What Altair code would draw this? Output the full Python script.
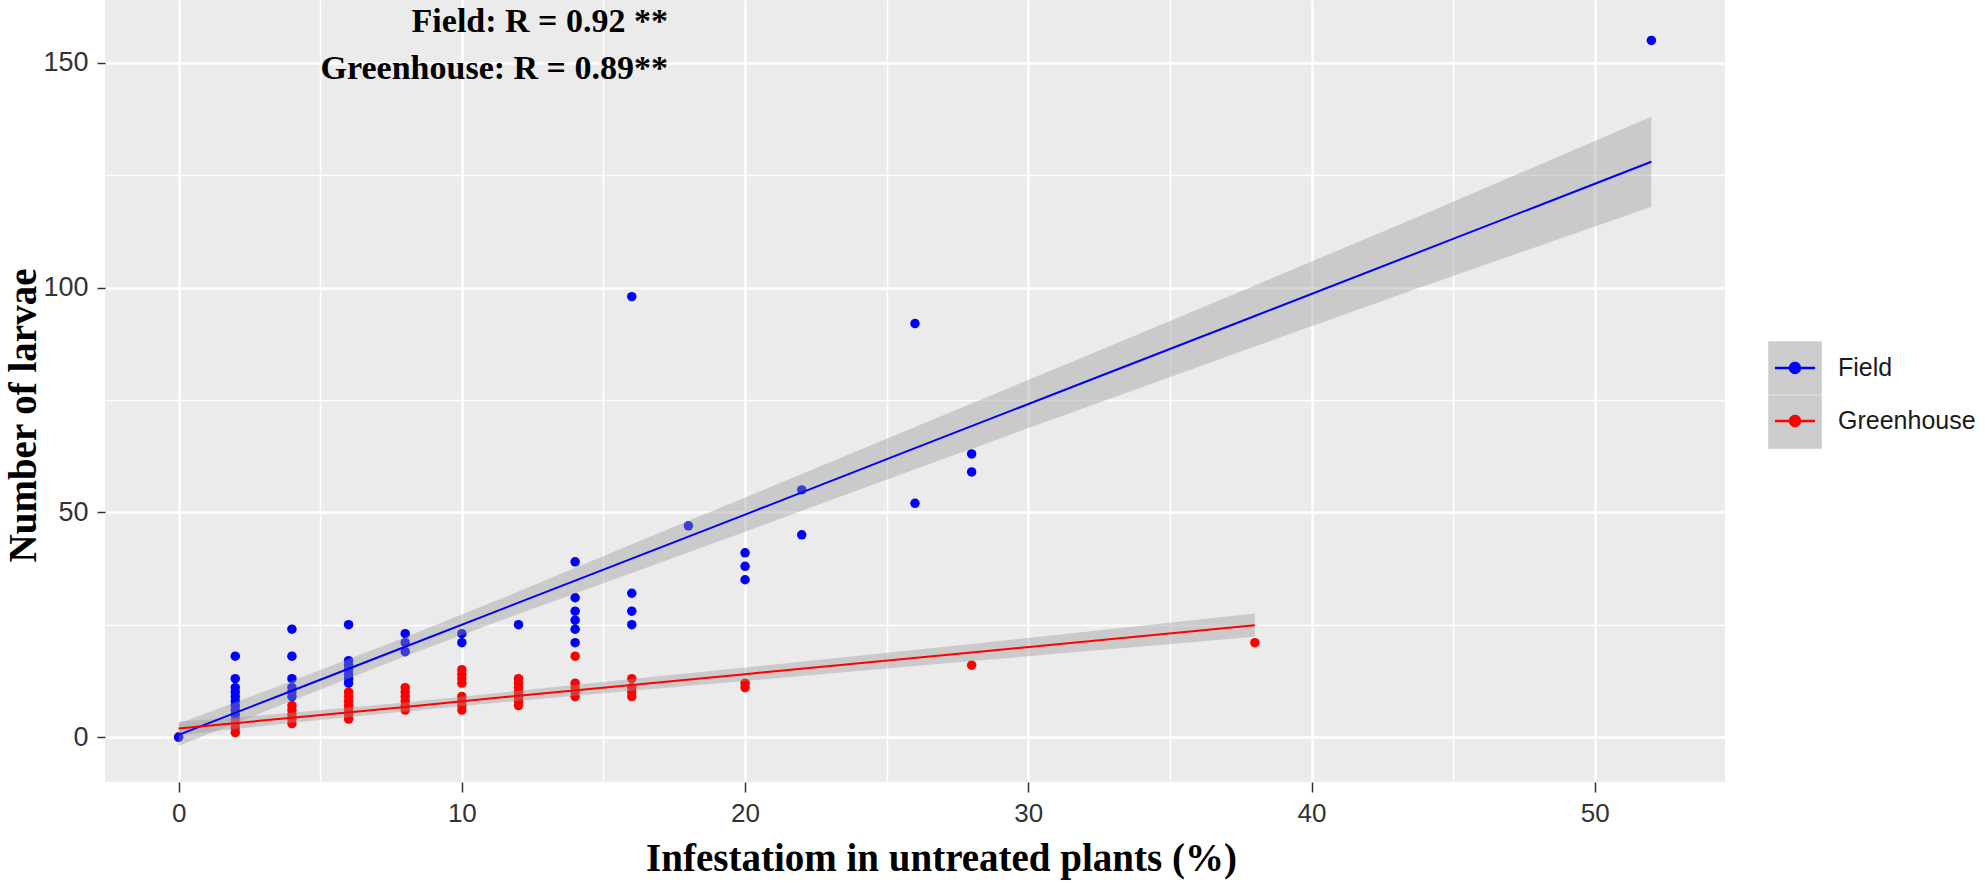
import altair as alt
import pandas as pd

series_names = ["Field", "Greenhouse"]
series_colors = ["#0000FF", "#FF0000"]
band_keys = ["Field band", "Greenhouse band"]

field_x = [0,
           2, 2, 2, 2, 2, 2, 2, 2, 2,
           4, 4, 4, 4, 4, 4,
           6, 6, 6, 6, 6, 6, 6,
           8, 8, 8,
           10, 10,
           12,
           14, 14, 14, 14, 14, 14,
           16, 16, 16, 16,
           18,
           20, 20, 20,
           22, 22,
           26, 26,
           28, 28,
           52]
field_y = [0,
           18, 13, 11, 10, 9, 8, 7, 6, 5,
           24, 18, 13, 11, 10, 9,
           25, 17, 16, 15, 14, 13, 12,
           23, 21, 19,
           23, 21,
           25,
           39, 31, 28, 26, 24, 21,
           98, 32, 28, 25,
           47,
           41, 38, 35,
           55, 45,
           92, 52,
           63, 59,
           155]

gh_x = [0,
        2, 2, 2, 2,
        4, 4, 4, 4, 4,
        6, 6, 6, 6, 6, 6, 6,
        8, 8, 8, 8, 8, 8,
        10, 10, 10, 10, 10, 10, 10, 10,
        12, 12, 12, 12, 12, 12, 12,
        14, 14, 14, 14, 14,
        16, 16, 16, 16,
        20, 20,
        28,
        38]
gh_y = [0,
        4, 3, 2, 1,
        7, 6, 5, 4, 3,
        10, 9, 8, 7, 6, 5, 4,
        11, 10, 9, 8, 7, 6,
        15, 14, 13, 12, 9, 8, 7, 6,
        13, 12, 11, 10, 9, 8, 7,
        18, 12, 11, 10, 9,
        13, 11, 10, 9,
        12, 11,
        16,
        21]

# Fitted lines and confidence bands
field_fit_x = [0, 4, 8, 12, 16, 20, 26, 32, 38, 44, 52]
field_fit = [0.5, 10.3, 20.1, 29.9, 39.7, 49.5, 64.3, 79.0, 93.7, 108.4, 128.0]
field_lo = [-2.0, 8.1, 18.0, 27.4, 36.5, 45.7, 59.6, 73.3, 86.9, 100.4, 118.0]
field_hi = [3.0, 12.5, 22.2, 32.4, 42.9, 53.3, 69.0, 84.7, 100.5, 116.4, 138.0]

gh_fit_x = [0, 4, 8, 12, 16, 20, 28, 38]
gh_fit = [1.9, 4.3, 6.7, 9.2, 11.6, 14.0, 18.8, 24.9]
gh_lo = [0.4, 3.2, 5.7, 8.1, 10.3, 12.5, 16.9, 22.3]
gh_hi = [3.4, 5.4, 7.7, 10.3, 12.9, 15.5, 20.7, 27.5]

grid_x = [0, 5, 10, 15, 20, 25, 30, 35, 40, 45, 50]
grid_y = [0, 25, 50, 75, 100, 125, 150]

annot_lines = ["Field: R = 0.92 **", "Greenhouse: R = 0.89**"]

pts = pd.concat([
    pd.DataFrame({"series": "Greenhouse", "x": gh_x, "y": gh_y}),
    pd.DataFrame({"series": "Field", "x": field_x, "y": field_y}),
], ignore_index=True)

band = pd.concat([
    pd.DataFrame({"series": "Field", "key": band_keys[0], "x": field_fit_x,
                  "fit": field_fit, "lo": field_lo, "hi": field_hi}),
    pd.DataFrame({"series": "Greenhouse", "key": band_keys[1], "x": gh_fit_x,
                  "fit": gh_fit, "lo": gh_lo, "hi": gh_hi}),
], ignore_index=True)

xscale = alt.Scale(domain=[-2.6, 54.6], nice=False, zero=False)
yscale = alt.Scale(domain=[-10, 164], nice=False, zero=False)

tick_font = "Liberation Sans"
title_font = "Liberation Serif"

xaxis = alt.Axis(
    values=grid_x, grid=True, gridColor="white",
    gridWidth={"condition": {"test": "datum.value % 10 === 0", "value": 2.4}, "value": 1.5},
    domain=False, ticks=True, tickSize=10, tickWidth=1.5,
    tickColor={"condition": {"test": "datum.value % 10 === 0", "value": "#333333"}, "value": "transparent"},
    labelExpr="datum.value % 10 === 0 ? datum.label : ''",
    labelFont=tick_font, labelFontSize=26, labelColor="#333333", labelPadding=8,
    labelOverlap=False, labelFlush=False,
    title="Infestatiom in untreated plants (%)", titleFont=title_font, titleFontWeight="bold",
    titleFontSize=39, titleColor="black", titleX=836, titleY=76,
    titleAlign="center", titleBaseline="middle",
)
yaxis = alt.Axis(
    values=grid_y, grid=True, gridColor="white",
    gridWidth={"condition": {"test": "datum.value % 50 === 0", "value": 2.4}, "value": 1.5},
    domain=False, ticks=True, tickSize=8, tickWidth=1.5,
    tickColor={"condition": {"test": "datum.value % 50 === 0", "value": "#333333"}, "value": "transparent"},
    labelExpr="datum.value % 50 === 0 ? datum.label : ''",
    labelFont=tick_font, labelFontSize=27, labelColor="#333333", labelPadding=9,
    labelOverlap=False, labelFlush=False,
    title="Number of larvae", titleFont=title_font, titleFontWeight="bold",
    titleFontSize=39, titleColor="black", titleAngle=270, titleX=-82, titleY=415,
    titleAlign="center", titleBaseline="middle",
)

KEY_PATH = ("M-0.75,-0.05L0.75,-0.05L0.75,0.05L-0.75,0.05Z "
            "M0.23,0A0.23,0.23 0 1,1 -0.23,0A0.23,0.23 0 1,1 0.23,0Z")

points = alt.Chart(pts).mark_circle(size=90, opacity=1).encode(
    x=alt.X("x:Q", scale=xscale, axis=xaxis),
    y=alt.Y("y:Q", scale=yscale, axis=yaxis),
    color=alt.Color("series:N", scale=alt.Scale(domain=series_names, range=series_colors),
                    legend=alt.Legend(title=None, orient="none", legendX=1663, legendY=341,
                                      symbolType=KEY_PATH, symbolSize=2862, symbolStrokeWidth=0,
                                      labelFont=tick_font, labelFontSize=25, labelColor="#1a1a1a",
                                      labelOffset=16, rowPadding=13, padding=0, zindex=1)),
)

ribbon = alt.Chart(band).mark_area(opacity=0.4).encode(
    x=alt.X("x:Q", scale=xscale),
    y=alt.Y("lo:Q", scale=yscale),
    y2="hi:Q",
    fill=alt.Fill("key:N", scale=alt.Scale(domain=band_keys, range=["#999999", "#999999"]),
                  legend=alt.Legend(title=None, orient="none", legendX=1663, legendY=341,
                                    symbolType="square", symbolSize=2862, symbolOpacity=0.5,
                                    symbolStrokeWidth=0, labelExpr="''", rowPadding=0,
                                    padding=0, zindex=0)),
)

lines = alt.Chart(band).mark_line(strokeWidth=2).encode(
    x=alt.X("x:Q", scale=xscale),
    y=alt.Y("fit:Q", scale=yscale),
    stroke=alt.Stroke("series:N", scale=alt.Scale(domain=series_names, range=series_colors),
                      legend=None),
)

txt_kwargs = dict(font=title_font, fontWeight="bold", fontSize=34, color="black",
                  align="right", baseline="alphabetic")
t1 = alt.Chart(alt.Data(values=[{}])).mark_text(text=annot_lines[0], **txt_kwargs).encode(
    x=alt.value(563), y=alt.value(32))
t2 = alt.Chart(alt.Data(values=[{}])).mark_text(text=annot_lines[1], **txt_kwargs).encode(
    x=alt.value(563), y=alt.value(79))

chart = alt.layer(points, ribbon, lines, t1, t2).properties(
    width=1620, height=782,
    autosize=alt.AutoSizeParams(type="none"),
    padding={"left": 105, "top": 0, "right": 260, "bottom": 101},
).configure(
    background="white",
    view=alt.ViewConfig(fill="#EBEBEB", strokeWidth=0),
)

chart.save("out.html", embed_options={"renderer": "svg", "actions": False})
